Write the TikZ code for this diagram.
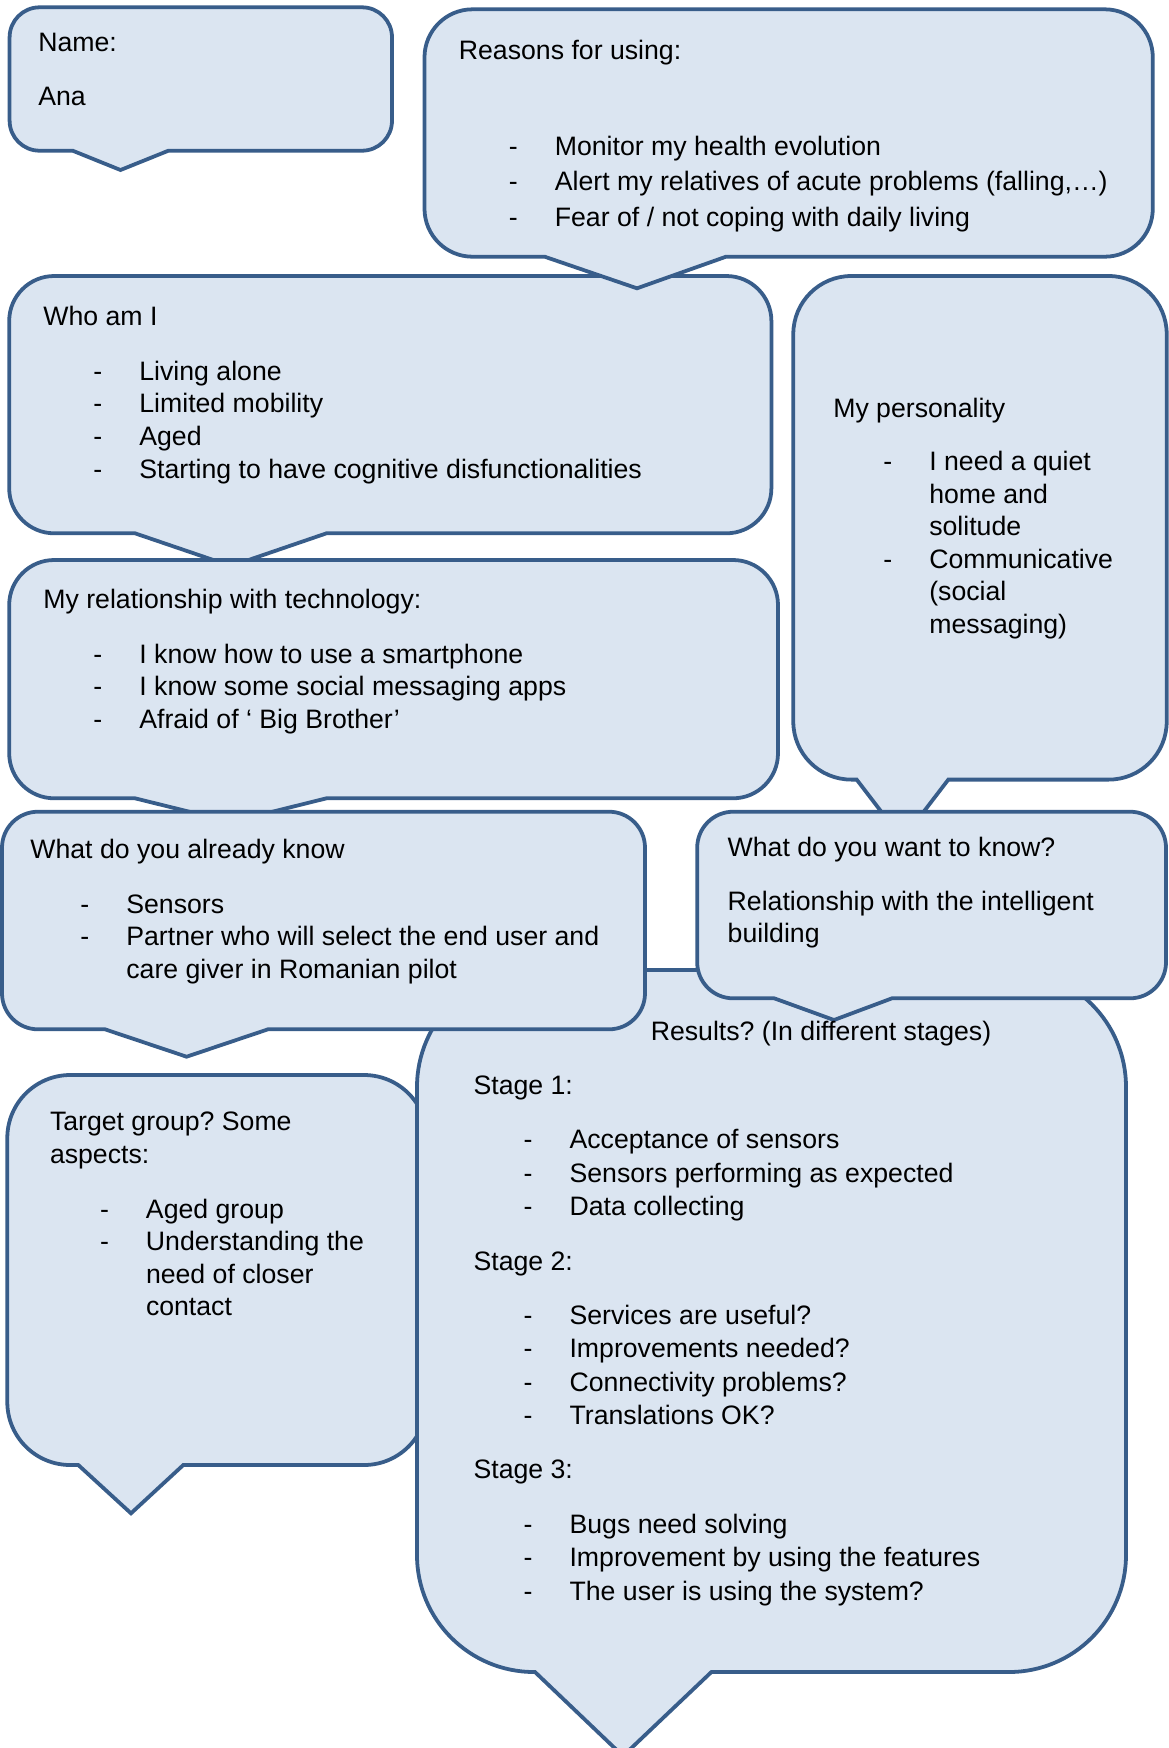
\documentclass[tikz,border=0pt]{standalone}
\usepackage{fontspec}
\setmainfont{Liberation Sans}
\frenchspacing
\definecolor{bubfill}{RGB}{219,229,241}
\definecolor{bubline}{RGB}{56,93,138}
\tikzset{
  bubble/.style={fill=bubfill, draw=bubline, line width=1.7pt, line join=miter},
  txt/.style={anchor=base west, inner sep=0pt, outer sep=0pt}
}
% #1 x1, #2 y1 (top), #3 x2, #4 y2 (bottom), #5 radius, #6 tail start, #7 tail end, #8 tip x, #9 tip y
\newcommand\bubble[9]{%
  \filldraw[bubble] (#6,#4) -- (#8,#9) -- (#7,#4) -- ({#3-#5},#4)
   arc[start angle=90,end angle=0,radius=#5] -- (#3,{#2+#5})
   arc[start angle=0,end angle=-90,radius=#5] -- ({#1+#5},#2)
   arc[start angle=-90,end angle=-180,radius=#5] -- (#1,{#4-#5})
   arc[start angle=180,end angle=90,radius=#5] -- cycle;}
\newcommand\tb[2]{\parbox[t]{440pt}{\fontsize{12}{#1}\selectfont\frenchspacing\raggedright #2}}
\newcommand\itm[1]{\hspace*{22.5pt}\makebox[20.7pt][l]{-}#1}
\newcommand\cnt[1]{\hspace*{43.2pt}#1}
\begin{document}
\begin{tikzpicture}[x=0.45pt,y=-0.45pt]
\useasboundingbox (0,0) rectangle (1169,1748);
\fill[white] (0,0) rectangle (1169,1748);
\clip (0,0) rectangle (1169,1748);
% shapes, back to front
\bubble{9.6}{7.3}{392}{150.7}{30}{72.7}{168.4}{120.5}{170}      % Name
\bubble{9.2}{276}{771.4}{533.3}{45}{135}{326.5}{231}{566}       % Who am I
\bubble{424.5}{9.3}{1152.8}{256.7}{48}{544.7}{726}{637}{288.3}  % Reasons
\bubble{9.2}{560}{778}{798.3}{45}{135}{326.5}{231}{822}         % Relationship
\bubble{793.3}{276}{1166.7}{779.6}{58}{856.7}{948.3}{902.5}{839.4} % Personality
\bubble{7.3}{1075}{427}{1465}{63}{78.3}{183.3}{131}{1513.3}     % Target
\bubble{417}{970}{1126}{1672}{117}{535}{711.4}{623}{1756}       % Results
\bubble{2}{811.7}{645}{1029.3}{36}{105}{268}{186.6}{1056.7}     % Already know
\bubble{697.2}{811.7}{1166}{998.3}{36}{774.2}{892}{834}{1020}   % Want to know
% texts
\node[txt] (tname) at (38.3,51.7) {\tb{14.85pt}{Name:\\[9.15pt]Ana}};
\node[txt] (treasons) at (458.9,59.3) {\tb{16.11pt}{Reasons for using:\\[26.96pt]\itm{Monitor my health evolution}\\\itm{Alert my relatives of acute problems (falling,…)}\\\itm{Fear of / not coping with daily living}}};
\node[txt] (twho) at (43.4,325) {\tb{14.76pt}{Who am I\\[9.99pt]\itm{Living alone}\\\itm{Limited mobility}\\\itm{Aged}\\\itm{Starting to have cognitive disfunctionalities}}};
\node[txt] (trel) at (43.4,608.3) {\tb{14.63pt}{My relationship with technology:\\[10.12pt]\itm{I know how to use a smartphone}\\\itm{I know some social messaging apps}\\\itm{Afraid of ‘ Big Brother’}}};
\node[txt] (tpers) at (833.3,417) {\tb{14.63pt}{My personality\\[9.54pt]\itm{I need a quiet}\\\cnt{home and}\\\cnt{solitude}\\\itm{Communicative}\\\cnt{(social}\\\cnt{messaging)}}};
\node[txt] (tknow) at (30.4,858.3) {\tb{14.63pt}{What do you already know\\[10.12pt]\itm{Sensors}\\\itm{Partner who will select the end user and}\\\cnt{care giver in Romanian pilot}}};
\node[txt] (twant) at (727.7,856.7) {\tb{14.7pt}{What do you want to know?\\[9.3pt]Relationship with the intelligent\\building}};
\node[txt] (ttarget) at (50,1130.7) {\tb{14.63pt}{Target group? Some\\aspects:\\[10.12pt]\itm{Aged group}\\\itm{Understanding the}\\\cnt{need of closer}\\\cnt{contact}}};
\node[txt] (tres) at (650.8,1040) {\fontsize{12}{15}\selectfont\frenchspacing Results? (In different stages)};
\node[txt] (tstages) at (473.6,1094.5) {\tb{15pt}{Stage 1:\\[9.5pt]\itm{Acceptance of sensors}\\\itm{Sensors performing as expected}\\\itm{Data collecting}\\[9.5pt]Stage 2:\\[9.5pt]\itm{Services are useful?}\\\itm{Improvements needed?}\\\itm{Connectivity problems?}\\\itm{Translations OK?}\\[9.5pt]Stage 3:\\[9.5pt]\itm{Bugs need solving}\\\itm{Improvement by using the features}\\\itm{The user is using the system?}}};
\end{tikzpicture}
\end{document}
